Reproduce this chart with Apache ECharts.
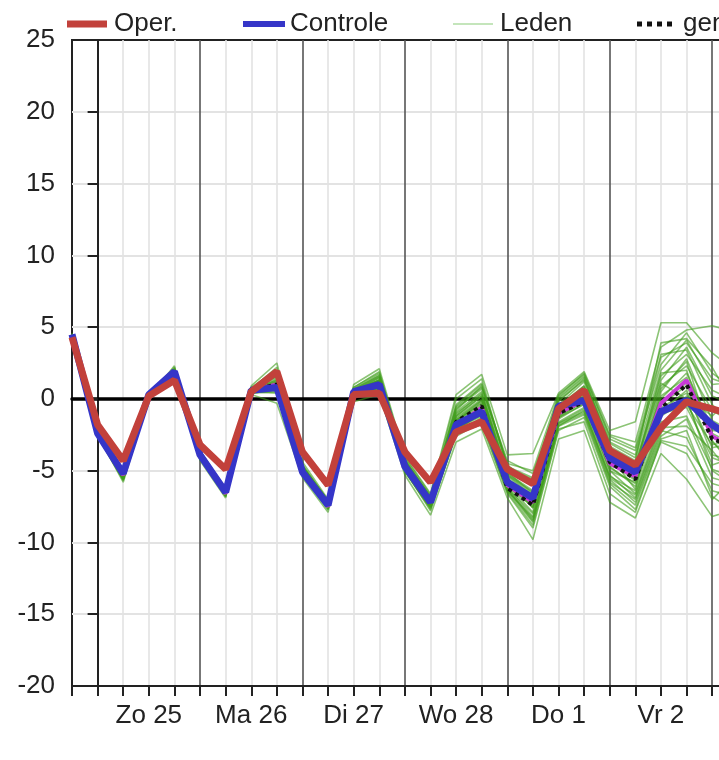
<!DOCTYPE html>
<html lang="nl">
<head>
	<meta charset="utf-8">
	<title>Pluim temperatuur</title>
	<script src="https://cdn.jsdelivr.net/npm/echarts@6/dist/echarts.min.js"></script>
	<style>
		html, body { margin: 0; padding: 0; background: #fff; }
		#main { width: 719px; height: 760px; }
	</style>
</head>
<body>
<div id="main"></div>
<script>
	// uren t.o.v. zondag 00:00, stap 6 uur
	const hours = [-6, 0, 6, 12, 18, 24, 30, 36, 42, 48, 54, 60, 66, 72, 78, 84, 90, 96, 102, 108, 114, 120, 126, 132, 138, 144, 150];
	const dayLabels = ['Zo 25', 'Ma 26', 'Di 27', 'Wo 28', 'Do 1', 'Vr 2', 'Za 3'];

	const oper = [4.3, -1.8, -4.3, 0.2, 1.3, -3.2, -4.9, 0.5, 1.9, -3.7, -6.0, 0.3, 0.4, -3.7, -5.8, -2.3, -1.6, -4.9, -5.9, -0.7, 0.6, -3.6, -4.6, -2.0, -0.2, -0.7, -1.2];
	const controle = [4.5, -2.4, -5.2, 0.3, 1.9, -3.9, -6.5, 0.6, 0.8, -5.1, -7.4, 0.5, 1.0, -4.7, -7.2, -1.8, -0.9, -5.8, -6.9, -0.5, -0.1, -4.1, -5.1, -0.9, -0.1, -1.8, -3.0];
	const gem = [4.4, -2.3, -5.3, 0.3, 1.8, -3.9, -6.5, 0.6, 1.0, -5.0, -7.4, 0.4, 1.0, -4.7, -7.2, -1.6, -0.5, -6.2, -7.4, -1.0, -0.2, -4.4, -5.6, -0.7, 1.0, -2.8, -3.4];
	const mediaan = [4.4, -2.3, -5.3, 0.3, 1.8, -3.9, -6.6, 0.6, 1.0, -5.0, -7.5, 0.4, 1.0, -4.7, -7.2, -1.9, -0.6, -6.0, -7.2, -1.0, -0.1, -4.5, -5.4, -0.3, 1.3, -2.6, -3.6];

	const leden = [
		[4.4, -2.2, -5.4, 0.3, 1.9, -3.8, -6.6, 0.5, 1.2, -4.9, -7.5, 0.4, 1.3, -4.5, -7.4, -1.2, 0.2, -5.5, -7.6, -0.6, 0.8, -4.0, -6.3, 0.5, 2.8, -1.5, -2.5],
		[4.5, -2.6, -5.7, 0.2, 2.1, -4.1, -6.8, 0.7, 2.2, -4.6, -7.2, 0.8, 1.8, -4.2, -6.9, -0.4, 1.1, -4.6, -6.0, 0.1, 1.6, -2.8, -3.6, 2.4, 4.6, 1.8, 0.5],
		[4.3, -2.0, -5.0, 0.4, 1.6, -3.6, -6.3, 0.4, 0.6, -5.2, -7.7, 0.2, 0.7, -5.0, -7.8, -2.4, -1.3, -6.4, -8.6, -1.9, -0.8, -5.6, -7.2, -2.6, -1.4, -5.5, -6.0],
		[4.4, -2.4, -5.2, 0.3, 1.8, -4.0, -6.5, 0.6, 1.4, -5.0, -7.3, 0.6, 1.2, -4.6, -7.1, -1.6, -0.2, -5.9, -7.0, -1.2, 0.3, -4.8, -5.9, -0.9, 0.6, -3.9, -4.4],
		[4.6, -2.5, -5.8, 0.1, 2.3, -4.3, -6.9, 0.9, 2.5, -4.4, -7.0, 1.0, 2.1, -4.0, -6.6, 0.3, 1.7, -3.9, -3.8, 0.4, 1.9, -2.2, -1.6, 5.3, 5.3, 3.2, 1.8],
		[4.3, -2.1, -5.1, 0.4, 1.7, -3.7, -6.2, 0.3, -0.3, -5.5, -7.9, -0.2, 0.3, -5.3, -8.1, -3.0, -2.1, -6.9, -9.8, -2.8, -2.2, -7.2, -8.3, -3.8, -5.6, -8.2, -7.6],
		[4.4, -2.3, -5.3, 0.2, 1.9, -3.9, -6.6, 0.6, 0.9, -5.1, -7.5, 0.3, 0.9, -4.9, -7.4, -1.9, -0.7, -6.0, -7.9, -1.4, -0.3, -5.0, -6.6, -1.8, -0.4, -3.2, -2.8],
		[4.5, -2.5, -5.5, 0.3, 2.0, -4.0, -6.7, 0.7, 1.6, -4.8, -7.2, 0.5, 1.5, -4.4, -7.0, -0.9, 0.5, -5.2, -6.4, -0.4, 1.2, -3.6, -4.8, 1.3, 3.6, 0.2, -0.6],
		[4.3, -2.2, -5.1, 0.3, 1.7, -3.8, -6.4, 0.5, 0.7, -5.2, -7.6, 0.3, 0.8, -4.8, -7.5, -2.2, -1.0, -6.2, -8.2, -1.6, -0.6, -5.3, -6.9, -2.2, -2.7, -6.4, -6.9],
		[4.4, -2.4, -5.4, 0.4, 1.8, -3.9, -6.5, 0.5, 1.1, -5.0, -7.4, 0.4, 1.1, -4.7, -7.2, -1.5, -0.4, -5.7, -7.3, -1.1, 0.1, -4.3, -5.2, 0.0, 1.8, -2.0, -1.6],
		[4.5, -2.3, -5.6, 0.2, 2.0, -4.1, -6.6, 0.6, 1.9, -4.7, -7.1, 0.7, 1.6, -4.3, -6.8, -0.6, 0.8, -4.3, -5.2, -0.2, 1.4, -3.1, -4.1, 2.0, 4.1, 1.0, 1.2],
		[4.4, -2.1, -5.2, 0.3, 1.8, -3.7, -6.4, 0.5, 0.4, -5.3, -7.6, 0.1, 0.6, -5.1, -7.6, -2.6, -1.6, -6.6, -9.0, -2.2, -1.3, -6.1, -7.7, -3.0, -3.8, -7.0, -5.2],
		[4.3, -2.4, -5.3, 0.3, 1.9, -4.0, -6.6, 0.6, 1.0, -5.0, -7.3, 0.5, 1.0, -4.6, -7.3, -1.8, -0.6, -5.8, -7.6, -1.3, -0.1, -4.6, -5.4, -0.4, 0.9, -2.6, -3.6],
		[4.5, -2.6, -5.6, 0.2, 2.2, -4.2, -6.8, 0.8, 2.0, -4.6, -7.1, 0.8, 1.9, -4.1, -6.7, 0.0, 1.4, -4.8, -5.6, 0.2, 1.8, -2.5, -3.0, 3.6, 4.8, 5.1, 4.6],
		[4.4, -2.2, -5.3, 0.4, 1.8, -3.8, -6.5, 0.6, 0.8, -5.1, -7.5, 0.3, 0.9, -4.8, -7.3, -1.7, -0.9, -6.1, -7.5, -1.2, -0.2, -4.7, -6.1, -1.2, -0.1, -4.6, -4.0],
		[4.4, -2.3, -5.4, 0.3, 1.9, -3.9, -6.6, 0.6, 1.3, -4.9, -7.4, 0.5, 1.4, -4.5, -7.1, -1.3, 0.0, -5.4, -6.8, -0.8, 0.5, -3.9, -5.0, 0.9, 2.3, -0.8, -1.9],
		[4.3, -2.1, -5.0, 0.3, 1.6, -3.6, -6.3, 0.4, 0.5, -5.3, -7.7, 0.2, 0.5, -5.0, -7.7, -2.4, -1.8, -6.5, -8.8, -2.1, -1.6, -6.6, -7.9, -2.9, -3.3, -5.9, -6.4],
		[4.5, -2.4, -5.5, 0.2, 2.0, -4.0, -6.7, 0.7, 1.5, -4.8, -7.2, 0.6, 1.3, -4.4, -7.0, -1.0, 0.3, -5.1, -6.6, -0.5, 0.9, -3.4, -4.5, 1.6, 3.1, 0.6, -0.2],
		[4.4, -2.3, -5.2, 0.3, 1.8, -3.9, -6.5, 0.5, 1.0, -5.0, -7.4, 0.4, 1.0, -4.7, -7.3, -1.6, -0.5, -5.8, -7.2, -1.0, 0.0, -4.4, -5.7, -0.6, 0.4, -3.4, -3.0],
		[4.4, -2.5, -5.4, 0.3, 1.9, -4.0, -6.6, 0.6, 1.1, -5.0, -7.3, 0.5, 1.2, -4.6, -7.2, -1.4, -0.1, -5.6, -6.9, -0.9, 0.4, -4.1, -5.1, 0.2, 1.5, -2.2, -2.4],
		[4.4, -2.2, -5.1, 0.3, 1.7, -3.8, -6.4, 0.5, 0.8, -5.1, -7.5, 0.3, 0.8, -4.8, -7.4, -2.0, -1.1, -6.2, -8.0, -1.7, -0.9, -5.4, -6.4, -1.6, -1.2, -4.9, -5.6],
		[4.5, -2.4, -5.6, 0.2, 2.1, -4.1, -6.7, 0.7, 1.7, -4.7, -7.1, 0.6, 1.6, -4.3, -6.9, -0.7, 0.7, -4.9, -5.9, -0.1, 1.3, -3.0, -3.9, 2.9, 3.9, 1.4, 0.8],
		[4.3, -2.3, -5.3, 0.4, 1.8, -3.9, -6.5, 0.6, 0.9, -5.1, -7.4, 0.4, 0.9, -4.8, -7.3, -1.7, -0.8, -6.0, -7.4, -1.3, -0.4, -5.0, -5.8, -1.0, -0.6, -4.1, -4.8],
		[4.4, -2.3, -5.3, 0.3, 1.8, -3.9, -6.5, 0.6, 1.0, -5.0, -7.4, 0.4, 1.1, -4.7, -7.2, -1.5, -0.3, -5.7, -7.1, -1.0, 0.2, -4.5, -5.3, -0.2, 1.1, -2.4, -3.3],
		[4.4, -2.3, -5.4, 0.3, 1.9, -4.0, -6.6, 0.6, 1.2, -4.9, -7.3, 0.5, 1.3, -4.5, -7.0, -1.1, 0.4, -5.3, -6.7, -0.7, 0.7, -3.7, -4.9, 1.8, 2.0, -3.0, -4.6],
		[4.4, -2.2, -5.2, 0.3, 1.8, -3.8, -6.5, 0.5, 0.9, -5.1, -7.5, 0.3, 0.9, -4.9, -7.5, -2.1, -1.2, -6.3, -8.4, -1.8, -1.0, -5.8, -7.0, -2.4, 0.2, -1.2, 0.6],
		[4.5, -2.4, -5.5, 0.2, 2.0, -4.0, -6.7, 0.7, 1.6, -4.8, -7.2, 0.6, 1.5, -4.4, -7.0, -0.8, 0.9, -4.5, -5.0, 0.3, 1.7, -2.6, -3.4, 3.1, 3.4, -0.4, -2.2],
		[4.3, -2.2, -5.1, 0.4, 1.7, -3.8, -6.4, 0.5, 0.6, -5.2, -7.6, 0.2, 0.7, -5.0, -7.6, -2.3, -1.4, -6.4, -8.3, -1.9, -1.1, -5.9, -7.4, -2.8, -2.2, -6.8, -8.0],
		[4.4, -2.3, -5.3, 0.3, 1.8, -3.9, -6.5, 0.6, 1.1, -5.0, -7.3, 0.5, 1.2, -4.6, -7.1, -1.5, -0.1, -5.6, -6.8, -0.9, 0.5, -4.2, -5.6, 0.7, 2.6, -2.9, -5.2],
		[4.4, -2.4, -5.4, 0.3, 1.9, -4.0, -6.6, 0.6, 1.3, -4.9, -7.3, 0.5, 1.3, -4.5, -7.1, -1.2, 0.2, -5.3, -6.5, -0.6, 0.9, -3.8, -4.6, 1.1, 0.0, -5.0, -6.2],
		[4.5, -2.5, -5.6, 0.2, 2.1, -4.1, -6.7, 0.7, 1.8, -4.7, -7.1, 0.7, 1.7, -4.3, -6.8, -0.5, 1.0, -4.7, -5.5, 0.0, 1.5, -3.3, -4.3, 3.9, 4.2, 2.2, -0.9],
		[4.3, -2.2, -5.2, 0.3, 1.7, -3.7, -6.4, 0.5, 0.7, -5.2, -7.6, 0.2, 0.8, -4.9, -7.5, -2.1, -1.0, -6.3, -8.5, -1.7, -0.7, -5.5, -6.7, -2.0, -1.9, -3.6, -5.8]
	];

	function pairs(values) {
		return values.map((v, i) => [hours[i], v]);
	}

	const font = 'Liberation Sans, Arial, sans-serif';
	const series = [];

	leden.forEach((row) => {
		series.push({
			name: 'Leden',
			type: 'line',
			symbol: 'none',
			silent: true,
			z: 2,
			data: pairs(row),
			itemStyle: { color: '#b1dca4' },
			lineStyle: { color: '#3f9c1a', width: 1.6, opacity: 0.6 }
		});
	});

	series.push({
		name: 'mediaan', type: 'line', symbol: 'none', z: 3,
		data: pairs(mediaan),
		lineStyle: { color: '#c83ad8', width: 4 }
	});
	series.push({
		name: 'gem.', type: 'line', symbol: 'none', z: 4,
		data: pairs(gem),
		itemStyle: { color: '#111' },
		lineStyle: { color: '#111', width: 4, type: 'dotted' }
	});
	series.push({
		name: 'Controle', type: 'line', symbol: 'none', z: 5,
		data: pairs(controle),
		itemStyle: { color: '#3535c8' },
		lineStyle: { color: '#3535c8', width: 7 }
	});
	series.push({
		name: 'Oper.', type: 'line', symbol: 'none', z: 6,
		data: pairs(oper),
		itemStyle: { color: '#c2413b' },
		lineStyle: { color: '#c2413b', width: 7 }
	});

	// een legenda per item, zodat elk icoon zijn eigen maat heeft
	function legendItem(left, name, icon, w, h, textPad) {
		return {
			left: left,
			top: 6,
			itemWidth: w,
			itemHeight: h,
			selectedMode: false,
			data: [{ name: name, icon: icon }],
			textStyle: { fontSize: 26, color: '#222', fontFamily: font, padding: [0, 0, 0, textPad || 0] }
		};
	}

	const chart = echarts.init(document.getElementById('main'));
	chart.setOption({
		animation: false,
		backgroundColor: '#fff',
		textStyle: { fontFamily: font },
		legend: [
			legendItem(62, 'Oper.', 'rect', 40, 7, 2),
			legendItem(238, 'Controle', 'rect', 42, 6),
			legendItem(448, 'Leden', 'rect', 40, 1.5, 2),
			legendItem(632, 'gem.', 'path://M0,0h5v5h-5zM10,0h5v5h-5zM20,0h5v5h-5zM30,0h5v5h-5z', 35, 5, 6)
		],
		grid: {
			left: 72,
			top: 40,
			width: 717,
			height: 646,
			show: true,
			borderColor: '#222',
			borderWidth: 2,
			outerBoundsMode: 'none'
		},
		xAxis: [{
			type: 'value',
			min: -6,
			max: 162,
			interval: 6,
			position: 'bottom',
			axisLine: { onZero: false, lineStyle: { color: '#222', width: 2 } },
			axisTick: { length: 10, lineStyle: { color: '#222', width: 2 } },
			axisLabel: {
				fontSize: 26,
				color: '#222',
				margin: 17,
				formatter: function (v) {
					if ((v - 12) % 24 !== 0) return '';
					return dayLabels[(v - 12) / 24] || '';
				}
			},
			splitLine: {
				show: true,
				showMinLine: false,
				lineStyle: { color: ['#555', '#e3e3e3', '#e3e3e3', '#e3e3e3'], width: 1.6 }
			}
		}, {
			type: 'value',
			min: -6,
			max: 162,
			position: 'bottom',
			axisLine: { show: true, onZero: true, lineStyle: { color: '#000', width: 3.5 } },
			axisTick: { show: false },
			axisLabel: { show: false },
			splitLine: { show: false }
		}],
		yAxis: {
			type: 'value',
			min: -20,
			max: 25,
			interval: 5,
			axisLine: { show: true, lineStyle: { color: '#222', width: 2 } },
			axisTick: { show: true, length: 10, lineStyle: { color: '#222', width: 2 } },
			axisLabel: { fontSize: 26, color: '#222', margin: 17 },
			splitLine: {
				show: true,
				showMinLine: false,
				showMaxLine: false,
				lineStyle: { color: '#e3e3e3', width: 2 }
			}
		},
		series: series
	});
</script>
</body>
</html>
